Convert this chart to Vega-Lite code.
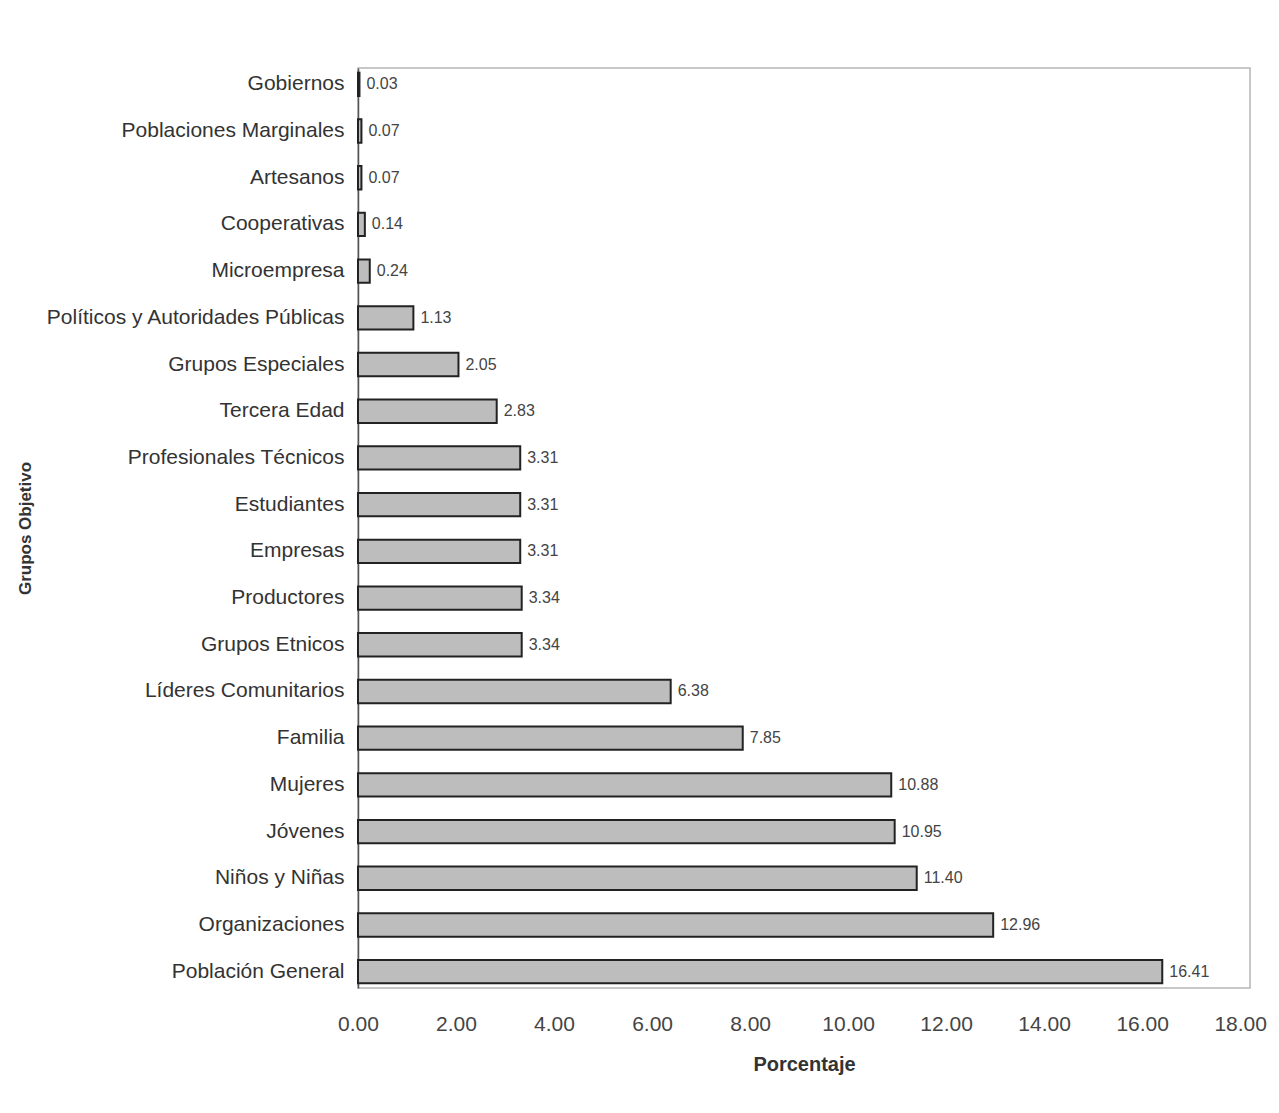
{
  "$schema": "https://vega.github.io/schema/vega-lite/v6.json",
  "autosize": {"type": "none"},
  "width": 892,
  "height": 920,
  "padding": {"left": 358, "top": 68, "right": 29, "bottom": 125},
  "background": "white",
  "config": {
    "font": "Liberation Sans",
    "view": {"stroke": "#b5b5b5", "strokeWidth": 1.5}
  },
  "data": {
    "values": [
      {"grupo": "Gobiernos", "pct": 0.03},
      {"grupo": "Poblaciones Marginales", "pct": 0.07},
      {"grupo": "Artesanos", "pct": 0.07},
      {"grupo": "Cooperativas", "pct": 0.14},
      {"grupo": "Microempresa", "pct": 0.24},
      {"grupo": "Políticos y Autoridades Públicas", "pct": 1.13},
      {"grupo": "Grupos Especiales", "pct": 2.05},
      {"grupo": "Tercera Edad", "pct": 2.83},
      {"grupo": "Profesionales Técnicos", "pct": 3.31},
      {"grupo": "Estudiantes", "pct": 3.31},
      {"grupo": "Empresas", "pct": 3.31},
      {"grupo": "Productores", "pct": 3.34},
      {"grupo": "Grupos Etnicos", "pct": 3.34},
      {"grupo": "Líderes Comunitarios", "pct": 6.38},
      {"grupo": "Familia", "pct": 7.85},
      {"grupo": "Mujeres", "pct": 10.88},
      {"grupo": "Jóvenes", "pct": 10.95},
      {"grupo": "Niños y Niñas", "pct": 11.40},
      {"grupo": "Organizaciones", "pct": 12.96},
      {"grupo": "Población General", "pct": 16.41}
    ]
  },
  "encoding": {
    "y": {
      "field": "grupo",
      "type": "nominal",
      "sort": {"field": "pct", "order": "ascending"},
      "scale": {"paddingInner": 0.5, "paddingOuter": 0.1},
      "axis": {
        "title": "Grupos Objetivo",
        "titleFont": "Liberation Sans",
        "titleFontWeight": "bold",
        "titleFontSize": 17,
        "titleColor": "#333",
        "titleAngle": -90,
        "titleX": -324,
        "titleY": 460,
        "titleAlign": "center",
        "labelFontSize": 21,
        "labelColor": "#333",
        "labelPadding": 14,
        "labelLimit": 0,
        "ticks": false,
        "domain": true,
        "domainColor": "#555",
        "domainWidth": 1.5,
        "grid": false
      }
    },
    "x": {
      "field": "pct",
      "type": "quantitative",
      "scale": {"domain": [0, 18.2], "nice": false},
      "axis": {
        "title": "Porcentaje",
        "titleFontWeight": "bold",
        "titleFontSize": 20,
        "titleColor": "#333",
        "titlePadding": 20,
        "values": [0, 2, 4, 6, 8, 10, 12, 14, 16, 18],
        "format": ".2f",
        "labelFontSize": 21,
        "labelColor": "#444",
        "labelPadding": 25,
        "labelFlush": false,
        "ticks": false,
        "domain": false,
        "grid": false
      }
    }
  },
  "layer": [
    {
      "mark": {"type": "bar", "fill": "#bdbdbd", "stroke": "#222", "strokeWidth": 2}
    },
    {
      "mark": {"type": "text", "align": "left", "dx": 7, "fontSize": 16, "color": "#444"},
      "encoding": {"text": {"field": "pct", "type": "quantitative", "format": ".2f"}}
    }
  ]
}
